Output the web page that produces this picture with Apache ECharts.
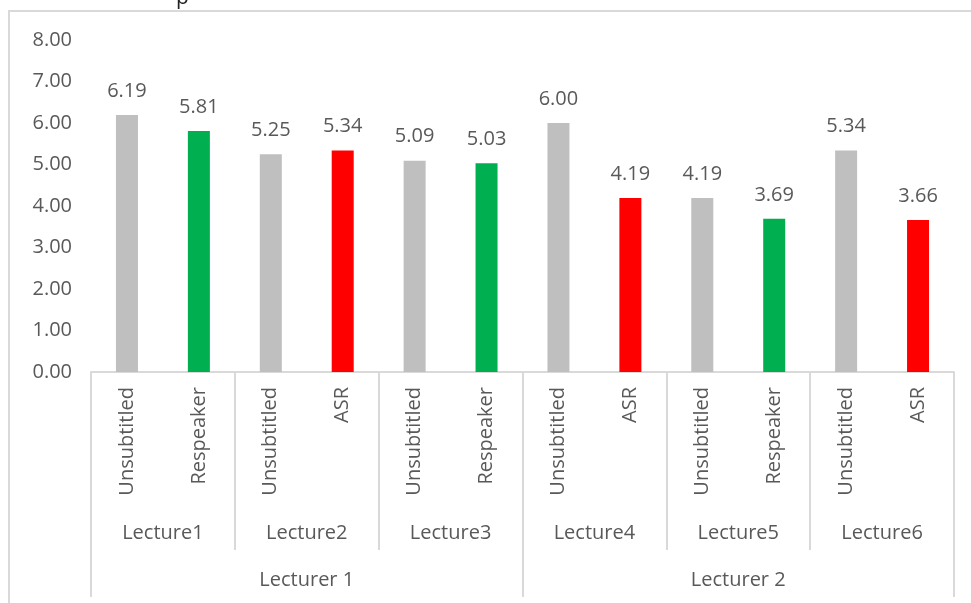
<!DOCTYPE html>
<html>
<head>
<meta charset="utf-8">
<script src="https://cdn.jsdelivr.net/npm/echarts@6/dist/echarts.min.js"></script>
<style>
  html, body { margin: 0; padding: 0; background: #fff; }
  #main { width: 971px; height: 603px; }
</style>
</head>
<body>
<div id="main"></div>
<script>
// data
var conditions = ['Unsubtitled', 'Respeaker', 'Unsubtitled', 'ASR', 'Unsubtitled', 'Respeaker',
                  'Unsubtitled', 'ASR', 'Unsubtitled', 'Respeaker', 'Unsubtitled', 'ASR'];
var scores = [6.19, 5.81, 5.25, 5.34, 5.09, 5.03, 6.00, 4.19, 4.19, 3.69, 5.34, 3.66];
var lectures = ['Lecture1', 'Lecture2', 'Lecture3', 'Lecture4', 'Lecture5', 'Lecture6'];
var lecturers = ['Lecturer 1', 'Lecturer 2'];
var yTicks = [0, 1, 2, 3, 4, 5, 6, 7, 8];

var colorOf = { 'Unsubtitled': '#bfbfbf', 'Respeaker': '#00b050', 'ASR': '#ff0000' };
var txt = '#595959';
var line = '#d9d9d9';
var font = 'Open Sans';
var fs = 20;

var barData = [];
for (var i = 0; i < scores.length; i++) {
    barData.push({ value: scores[i], itemStyle: { color: colorOf[conditions[i]] } });
}

var myChart = echarts.init(document.getElementById('main'));

var option = {
    animation: false,
    backgroundColor: '#fff',
    textStyle: { fontFamily: font },
    title: {
        text: 'p',
        left: 171,
        top: -17,
        textStyle: { fontFamily: font, fontSize: 21, fontWeight: 'normal', color: '#222' }
    },
    graphic: [{
        type: 'rect',
        shape: { x: 9, y: 11, width: 980, height: 610 },
        style: { fill: null, stroke: line, lineWidth: 2 },
        silent: true
    }],
    grid: { left: 91, right: 17, top: 40, bottom: 231 },
    xAxis: [{
        type: 'category',
        data: conditions,
        position: 'bottom',
        axisLine: { lineStyle: { color: line, width: 2 } },
        axisTick: { show: false },
        axisLabel: { interval: 0, rotate: 90, margin: 15, fontSize: fs, color: txt, fontFamily: font }
    }, {
        type: 'category',
        data: lectures,
        position: 'bottom',
        axisLine: { show: false },
        axisTick: { show: true, interval: 0, length: 178, lineStyle: { color: line, width: 2 } },
        axisLabel: { interval: 0, margin: 151, fontSize: fs, color: txt, fontFamily: font }
    }, {
        type: 'category',
        data: lecturers,
        position: 'bottom',
        axisLine: { show: false },
        axisTick: { show: true, interval: 0, length: 225, lineStyle: { color: line, width: 2 } },
        axisLabel: { interval: 0, margin: 198, fontSize: fs, color: txt, fontFamily: font }
    }],
    yAxis: {
        type: 'value',
        min: yTicks[0],
        max: yTicks[yTicks.length - 1],
        interval: 1,
        axisLine: { show: false },
        axisTick: { show: false },
        splitLine: { show: false },
        axisLabel: {
            margin: 19, fontSize: fs, color: txt, fontFamily: font,
            formatter: function(v) { return v.toFixed(2); }
        }
    },
    series: [{
        type: 'bar',
        xAxisIndex: 0,
        barWidth: 22,
        data: barData,
        label: {
            show: true,
            position: 'top',
            distance: 14,
            fontSize: fs,
            color: txt,
            fontFamily: font,
            formatter: function(p) { return p.value.toFixed(2); }
        }
    }]
};

myChart.setOption(option);
</script>
</body>
</html>
